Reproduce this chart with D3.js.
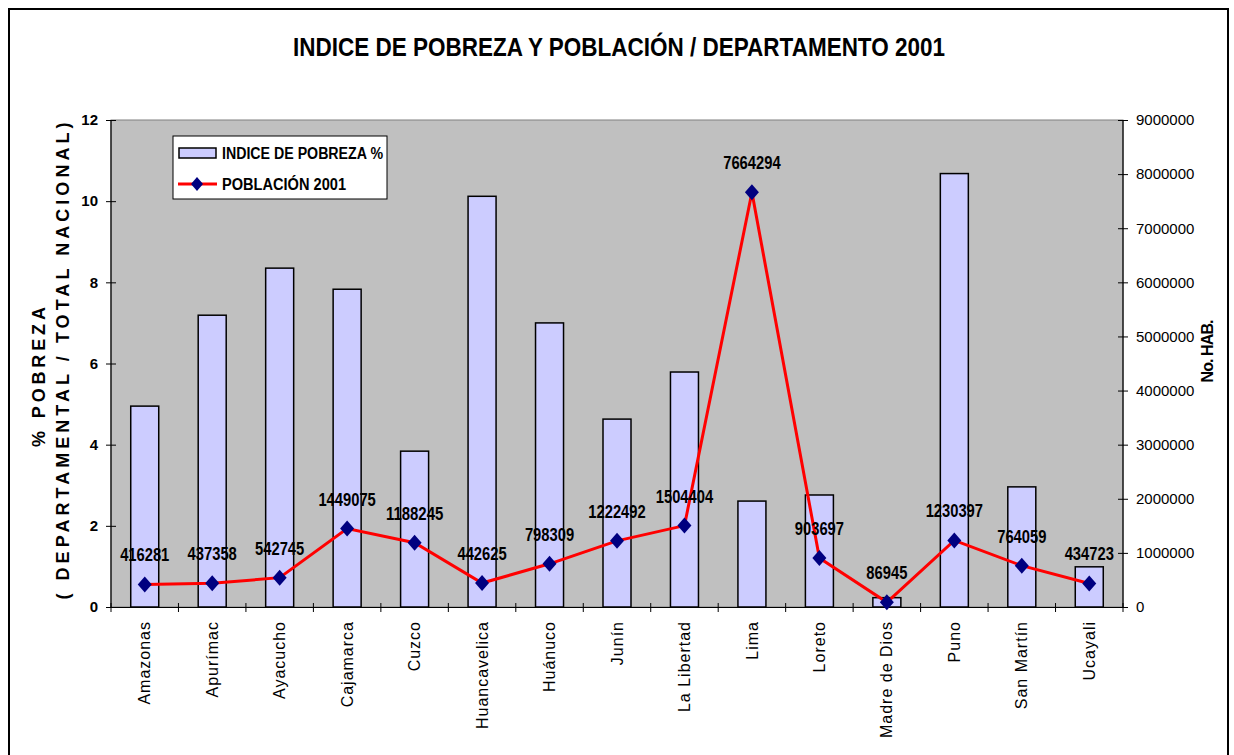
<!DOCTYPE html>
<html>
<head>
<meta charset="utf-8">
<script src="https://cdn.jsdelivr.net/npm/d3@7"></script>
<style>
  body { margin: 0; background: #fff; }
  svg { display: block; }
  .narrow { font-family: "Liberation Sans Narrow", "Arial Narrow", "Liberation Sans", sans-serif; font-weight: bold; }
  .arial { font-family: "Liberation Sans", Arial, sans-serif; }
</style>
</head>
<body>
<div id="chart"></div>
<script>
const width = 1234, height = 755;

// data
const departamentos = ["Amazonas", "Apurímac", "Ayacucho", "Cajamarca", "Cuzco", "Huancavelica", "Huánuco",
	"Junín", "La Libertad", "Lima", "Loreto", "Madre de Dios", "Puno", "San Martín", "Ucayali"];
const pobreza = [4.95, 7.19, 8.35, 7.83, 3.84, 10.12, 7.0, 4.63, 5.79, 2.61, 2.76, 0.23, 10.68, 2.96, 0.99];
const poblacion = [416281, 437358, 542745, 1449075, 1188245, 442625, 798309, 1222492, 1504404, 7664294,
	903697, 86945, 1230397, 764059, 434723];
const leftTicks = [0, 2, 4, 6, 8, 10, 12];
const rightTicks = [0, 1000000, 2000000, 3000000, 4000000, 5000000, 6000000, 7000000, 8000000, 9000000];

const data = departamentos.map((d, i) => ({ dep: d, pob: pobreza[i], hab: poblacion[i] }));

// plot area
const margin = { left: 111, right: 1123, top: 120, bottom: 607 };

const svg = d3.select("#chart").append("svg").attr("width", width).attr("height", height);

// outer frame
svg.append("rect")
	.attr("x", 9).attr("y", 9)
	.attr("width", 1219).attr("height", 760)
	.attr("fill", "#fff").attr("stroke", "#000").attr("stroke-width", 2);

const x = d3.scaleBand().domain(departamentos).range([margin.left, margin.right]).paddingInner(0).paddingOuter(0);
const yL = d3.scaleLinear().domain([0, 12]).range([margin.bottom, margin.top]);
const yR = d3.scaleLinear().domain([0, 9000000]).range([margin.bottom, margin.top]);

svg.append("rect")
	.attr("x", margin.left).attr("y", margin.top)
	.attr("width", margin.right - margin.left).attr("height", margin.bottom - margin.top)
	.attr("fill", "#c0c0c0").attr("stroke", "#808080").attr("stroke-width", 1);

// bars
const barW = 28;
svg.append("g").selectAll("rect")
	.data(data)
	.join("rect")
	.attr("x", (d) => x(d.dep) + x.bandwidth() / 2 - barW / 2)
	.attr("y", (d) => yL(d.pob))
	.attr("width", barW)
	.attr("height", (d) => yL(0) - yL(d.pob))
	.attr("fill", "#ccccff")
	.attr("stroke", "#000").attr("stroke-width", 1.5);

// axes
const axL = svg.append("g").attr("transform", `translate(${margin.left},0)`)
	.call(d3.axisLeft(yL).tickValues(leftTicks).tickSize(5).tickPadding(8));
axL.selectAll(".tick line").attr("x2", -5).attr("x1", 5);
axL.selectAll("text").attr("class", "arial").attr("font-size", 15).attr("font-weight", "bold").attr("fill", "#000");

const axR = svg.append("g").attr("transform", `translate(${margin.right},0)`)
	.call(d3.axisRight(yR).tickValues(rightTicks).tickFormat(d3.format("d")).tickSize(5).tickPadding(8));
axR.selectAll(".tick line").attr("x1", -5);
axR.selectAll("text").attr("class", "arial").attr("font-size", 15).attr("fill", "#000");

const axB = svg.append("g").attr("transform", `translate(0,${margin.bottom})`)
	.call(d3.axisBottom(x).tickSize(0).tickFormat(""));
axB.selectAll(".tick").remove();
svg.append("g").selectAll("line")
	.data(d3.range(departamentos.length + 1))
	.join("line")
	.attr("x1", (i) => margin.left + i * x.step()).attr("x2", (i) => margin.left + i * x.step())
	.attr("y1", margin.bottom - 4).attr("y2", margin.bottom + 5)
	.attr("stroke", "#000");
[axL, axR, axB].forEach((a) => a.select(".domain").attr("stroke", "#000").attr("stroke-width", 1.2));
axL.select(".domain").attr("d", `M0,${margin.top}V${margin.bottom}`);
axR.select(".domain").attr("d", `M0,${margin.top}V${margin.bottom}`);

// category labels
svg.append("g").selectAll("text")
	.data(departamentos)
	.join("text")
	.attr("class", "arial")
	.attr("transform", (d) => `translate(${x(d) + x.bandwidth() / 2},621) rotate(-90)`)
	.attr("text-anchor", "end")
	.attr("dy", "0.35em")
	.attr("font-size", 16)
	.attr("letter-spacing", 1)
	.text((d) => d);

// population line
const line = d3.line()
	.x((d) => x(d.dep) + x.bandwidth() / 2)
	.y((d) => yR(d.hab));
svg.append("path")
	.datum(data)
	.attr("d", line)
	.attr("fill", "none")
	.attr("stroke", "#ff0000")
	.attr("stroke-width", 3);

const diamond = "M0,-8L7,0L0,8L-7,0Z";
svg.append("g").selectAll("path")
	.data(data)
	.join("path")
	.attr("transform", (d) => `translate(${x(d.dep) + x.bandwidth() / 2},${yR(d.hab)})`)
	.attr("d", diamond)
	.attr("fill", "#000080");

svg.append("g").selectAll("text")
	.data(data)
	.join("text")
	.attr("class", "narrow")
	.attr("x", (d) => x(d.dep) + x.bandwidth() / 2)
	.attr("y", (d) => yR(d.hab) - 23)
	.attr("text-anchor", "middle")
	.attr("font-size", 18)
	.attr("textLength", (d) => String(d.hab).length * 8.2)
	.attr("lengthAdjust", "spacingAndGlyphs")
	.text((d) => d.hab);

// title
svg.append("text")
	.attr("class", "narrow")
	.attr("x", 619).attr("y", 56)
	.attr("text-anchor", "middle")
	.attr("font-size", 25)
	.attr("textLength", 652)
	.attr("lengthAdjust", "spacingAndGlyphs")
	.text("INDICE DE POBREZA Y POBLACIÓN / DEPARTAMENTO 2001");

// axis titles
svg.append("text")
	.attr("class", "arial")
	.attr("transform", "translate(45,377) rotate(-90)")
	.attr("text-anchor", "middle")
	.attr("font-size", 18).attr("font-weight", "bold")
	.attr("textLength", 140).attr("lengthAdjust", "spacing")
	.text("% POBREZA");
svg.append("text")
	.attr("class", "arial")
	.attr("transform", "translate(69,361) rotate(-90)")
	.attr("text-anchor", "middle")
	.attr("font-size", 18).attr("font-weight", "bold")
	.attr("textLength", 477).attr("lengthAdjust", "spacing")
	.text("( DEPARTAMENTAL / TOTAL NACIONAL)");
svg.append("text")
	.attr("class", "arial")
	.attr("transform", "translate(1213,351) rotate(-90)")
	.attr("text-anchor", "middle")
	.attr("font-size", 16).attr("font-weight", "bold")
	.attr("textLength", 63).attr("lengthAdjust", "spacing")
	.text("No. HAB.");

// legend
const leg = svg.append("g");
leg.append("rect")
	.attr("x", 173).attr("y", 136).attr("width", 214).attr("height", 63)
	.attr("fill", "#fff").attr("stroke", "#000").attr("stroke-width", 1);
leg.append("rect")
	.attr("x", 179).attr("y", 148).attr("width", 37).attr("height", 10)
	.attr("fill", "#ccccff").attr("stroke", "#000").attr("stroke-width", 1.5);
leg.append("line")
	.attr("x1", 178).attr("x2", 217).attr("y1", 184).attr("y2", 184)
	.attr("stroke", "#ff0000").attr("stroke-width", 3);
leg.append("path")
	.attr("transform", "translate(197,184)")
	.attr("d", "M0,-7L6,0L0,7L-6,0Z")
	.attr("fill", "#000080");
leg.append("text").attr("class", "narrow")
	.attr("x", 222).attr("y", 159).attr("font-size", 16)
	.attr("textLength", 161).attr("lengthAdjust", "spacingAndGlyphs")
	.text("INDICE DE POBREZA %");
leg.append("text").attr("class", "narrow")
	.attr("x", 222).attr("y", 190).attr("font-size", 16)
	.attr("textLength", 124).attr("lengthAdjust", "spacingAndGlyphs")
	.text("POBLACIÓN 2001");
</script>
</body>
</html>
